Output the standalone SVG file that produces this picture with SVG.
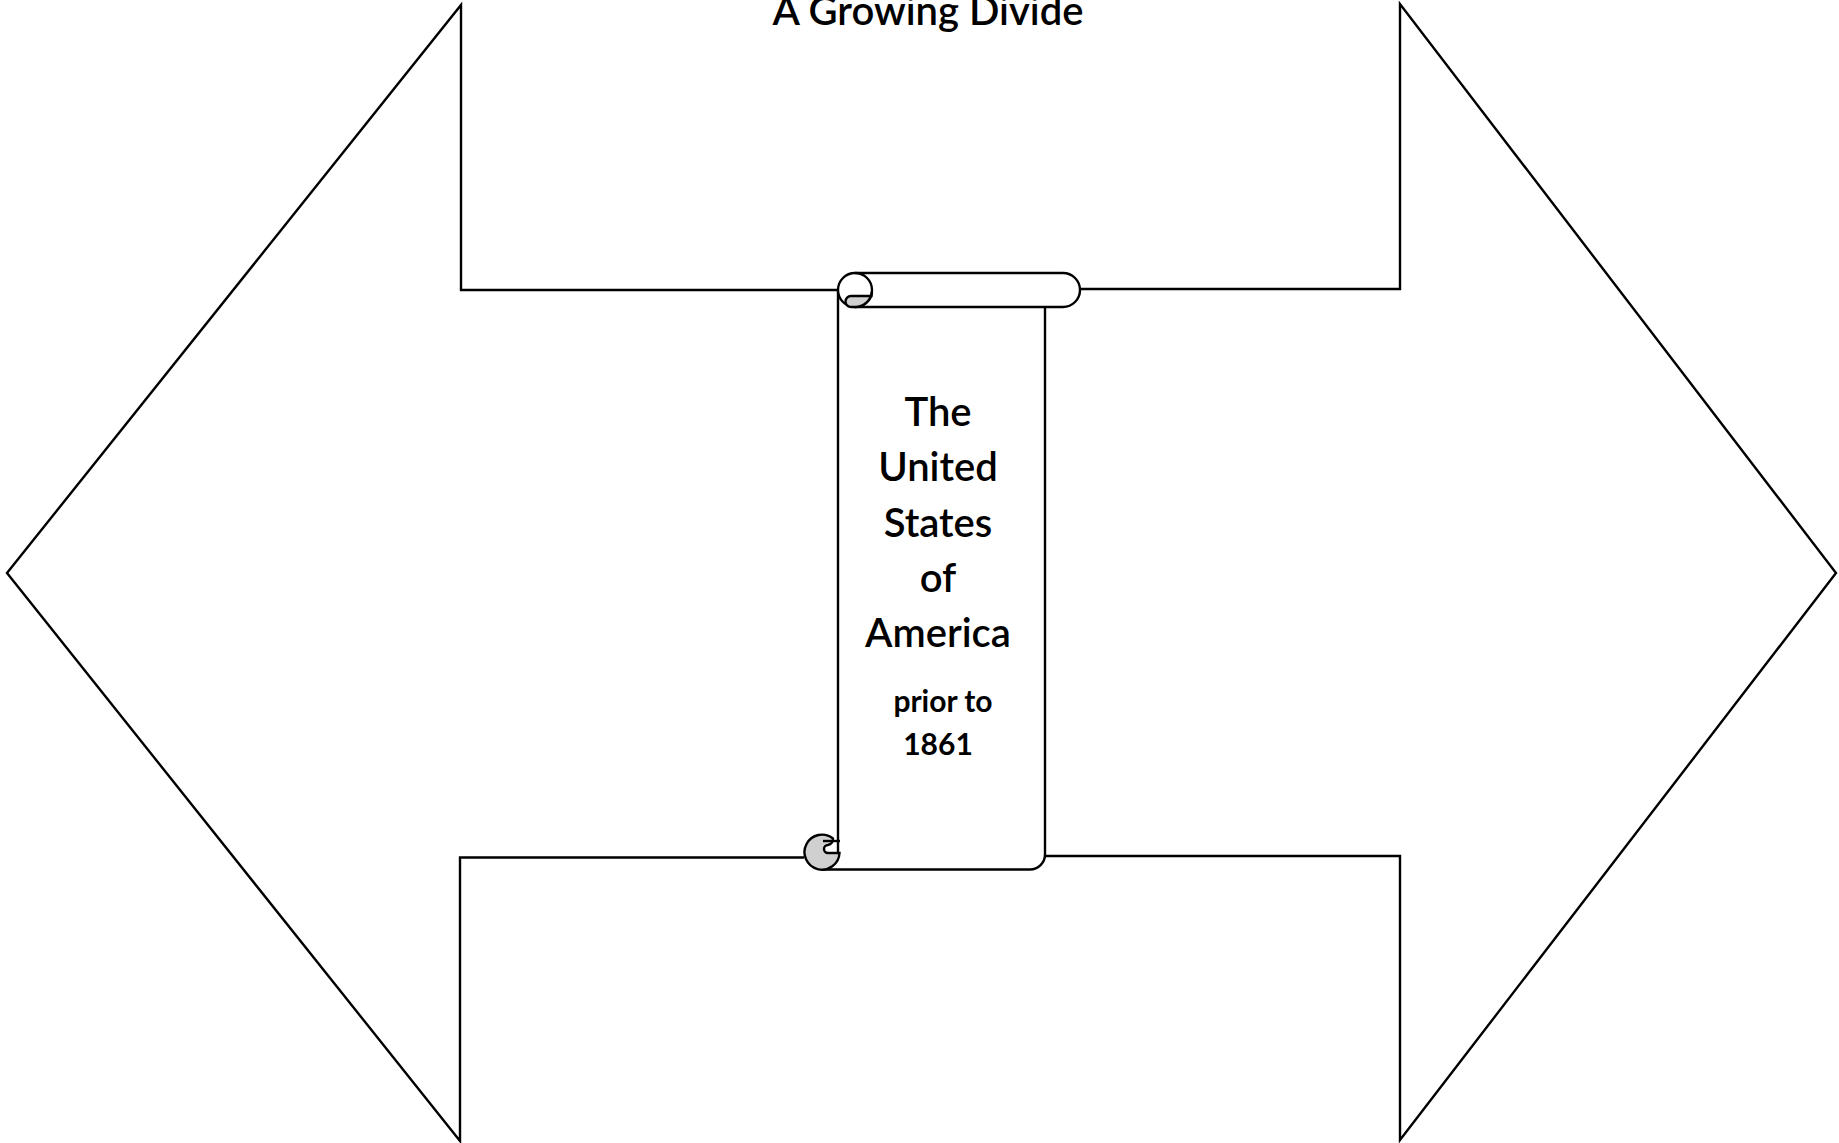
<svg xmlns="http://www.w3.org/2000/svg" width="1839" height="1143" viewBox="0 0 1839 1143">
<style>
.ln{fill:none;stroke:#000;stroke-width:2.4;stroke-linejoin:miter}
.wf{fill:#fff;stroke:#000;stroke-width:2.4}
.bg{fill:#fff;stroke:none}
.gr{fill:#d0d0d0;stroke:#000;stroke-width:2.4}
.big{font-family:Lato,"Open Sans",sans-serif;font-size:40px;font-weight:600;fill:#000;text-anchor:middle}
.sm{font-family:Lato,"Open Sans",sans-serif;font-size:30px;font-weight:bold;fill:#000;text-anchor:middle}
.ttl{font-family:Lato,"Open Sans",sans-serif;font-size:40px;font-weight:600;fill:#000;text-anchor:middle}
</style>
<rect width="1839" height="1143" fill="#fff"/>
<g id="left-arrow">
<path class="ln" d="M838,290 L461,290 L461,5 L7,573 L460,1141 L460,857.5 L804,857.5"/>
</g>
<g id="right-arrow">
<path class="ln" d="M1080,289 L1400,289 L1400,4 L1836,573 L1400,1140 L1400,856 L1045,856"/>
</g>
<g id="scroll">
<path class="bg" d="M838,290 L838,869 L1045,869 L1045,307 Z"/>
<path class="ln" d="M838,290 L838,857"/>
<path class="ln" d="M822,869.5 L1030,869.5 A15,15 0 0 0 1045,854.5 L1045,307"/>
<path class="wf" d="M855,273 L1063,273 A17,17 0 0 1 1063,307 L855,307 A17,17 0 0 1 855,273 Z"/>
<path class="ln" d="M855,273 A17,17 0 0 1 872,290 A17,17 0 0 1 855,307"/>
<path class="gr" d="M872,292 A17,17 0 0 1 855,307 L851,307 A5.5,5.5 0 0 1 851,296 L871.5,296 Z"/>
<path class="gr" d="M833,838.5 A17.5,17.5 0 1 0 839.5,853 L828,853 A4,4 0 0 1 828,845 A6,6 0 0 0 833,838.5 Z"/>
<path class="ln" d="M823,841 L840,841"/>
</g>
<g id="labels">
<text class="ttl" x="928" y="25">A Growing Divide</text>
<text class="big" x="938" y="426">The</text>
<text class="big" x="938" y="481">United</text>
<text class="big" x="938" y="537">States</text>
<text class="big" x="938" y="592">of</text>
<text class="big" x="938" y="647">America</text>
<text class="sm" x="943" y="712">prior to</text>
<text class="sm" x="938" y="755">1861</text>
</g>
</svg>
